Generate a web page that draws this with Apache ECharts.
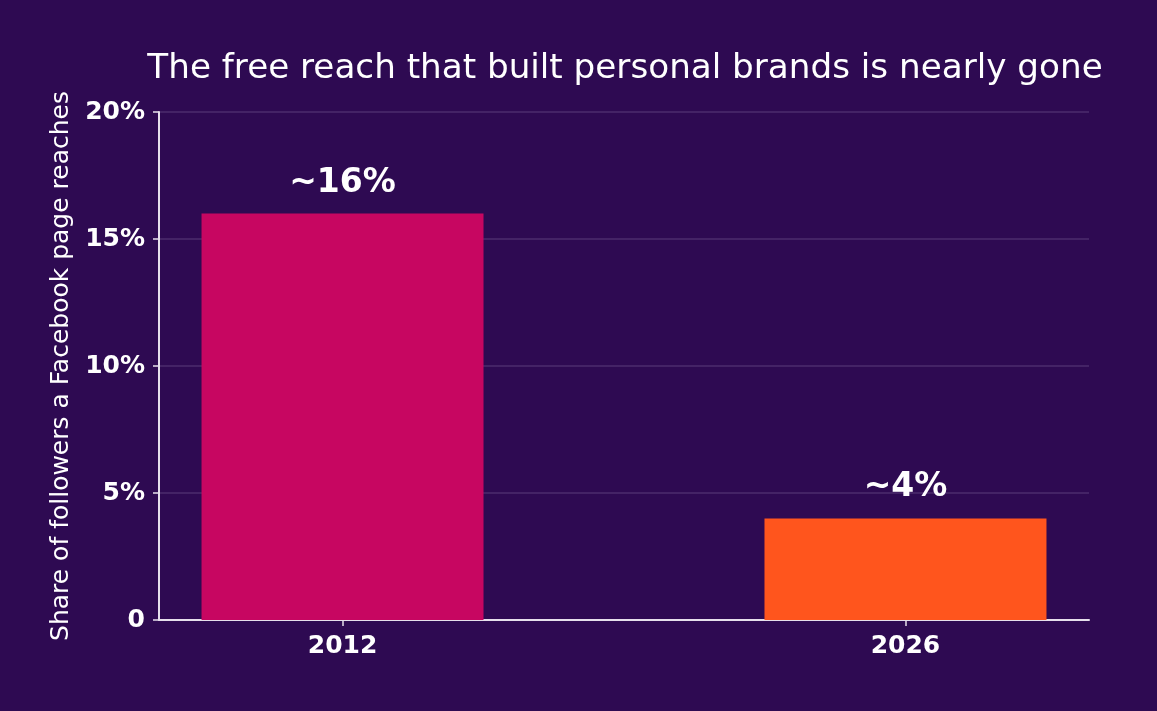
<!DOCTYPE html>
<html>
<head>
<meta charset="utf-8">
<script src="https://cdn.jsdelivr.net/npm/echarts@6/dist/echarts.min.js"></script>
<style>
html,body{margin:0;padding:0;background:#2e0a52;}
#c{width:1157px;height:711px;}
</style>
</head>
<body>
<div id="c"></div>
<script>
var categories = ['2012', '2026'];
var values = [16, 4];
var valueLabels = ['~16%', '~4%'];
var barColors = ['#c70661', '#ff551d'];
var yTicks = [0, 5, 10, 15, 20];

var chart = echarts.init(document.getElementById('c'));
var font = 'DejaVu Sans';
chart.setOption({
  backgroundColor: '#2e0a52',
  animation: false,
  title: {
    text: 'The free reach that built personal brands is nearly gone',
    left: 624,
    top: 47,
    textAlign: 'center',
    textStyle: {color: '#ffffff', fontFamily: font, fontSize: 34.2, fontWeight: 'normal'}
  },
  grid: {left: 159, right: 68, top: 112, bottom: 91, containLabel: false},
  xAxis: {
    type: 'value',
    min: -0.326,
    max: 1.326,
    axisLine: {show: true, onZero: false, lineStyle: {color: '#e6e0ec', width: 2}},
    axisTick: {show: true, customValues: [0, 1], length: 6, lineStyle: {color: '#e6e0ec', width: 1.5}},
    axisLabel: {
      customValues: [0, 1],
      color: '#ffffff', fontFamily: font, fontSize: 25, fontWeight: 'bold', margin: 14,
      formatter: function (v) { return categories[Math.round(v)]; }
    },
    splitLine: {show: false}
  },
  yAxis: {
    type: 'value',
    min: yTicks[0],
    max: yTicks[yTicks.length - 1],
    interval: 5,
    name: 'Share of followers a Facebook page reaches',
    nameLocation: 'middle',
    nameRotate: 90,
    nameGap: 83,
    nameTextStyle: {color: '#ffffff', fontFamily: font, fontSize: 25},
    axisLine: {show: true, onZero: false, lineStyle: {color: '#e6e0ec', width: 2}},
    axisTick: {show: true, length: 6, lineStyle: {color: '#e6e0ec', width: 1.5}},
    axisLabel: {
      color: '#ffffff', fontFamily: font, fontSize: 25, fontWeight: 'bold', margin: 14,
      formatter: function (v) { return v === 0 ? '0' : v + '%'; }
    },
    splitLine: {lineStyle: {color: '#4d2c6e', width: 1.5}}
  },
  series: [{
    type: 'bar',
    barWidth: 282,
    data: values.map(function (v, i) {
      return {value: [i, v], itemStyle: {color: barColors[i]}};
    }),
    label: {
      show: true,
      position: 'top',
      distance: 14,
      color: '#ffffff',
      fontFamily: font,
      fontSize: 33,
      fontWeight: 'bold',
      formatter: function (p) { return valueLabels[p.dataIndex]; }
    }
  }]
});
chart.setOption({title: {left: 620}});
</script>
</body>
</html>
